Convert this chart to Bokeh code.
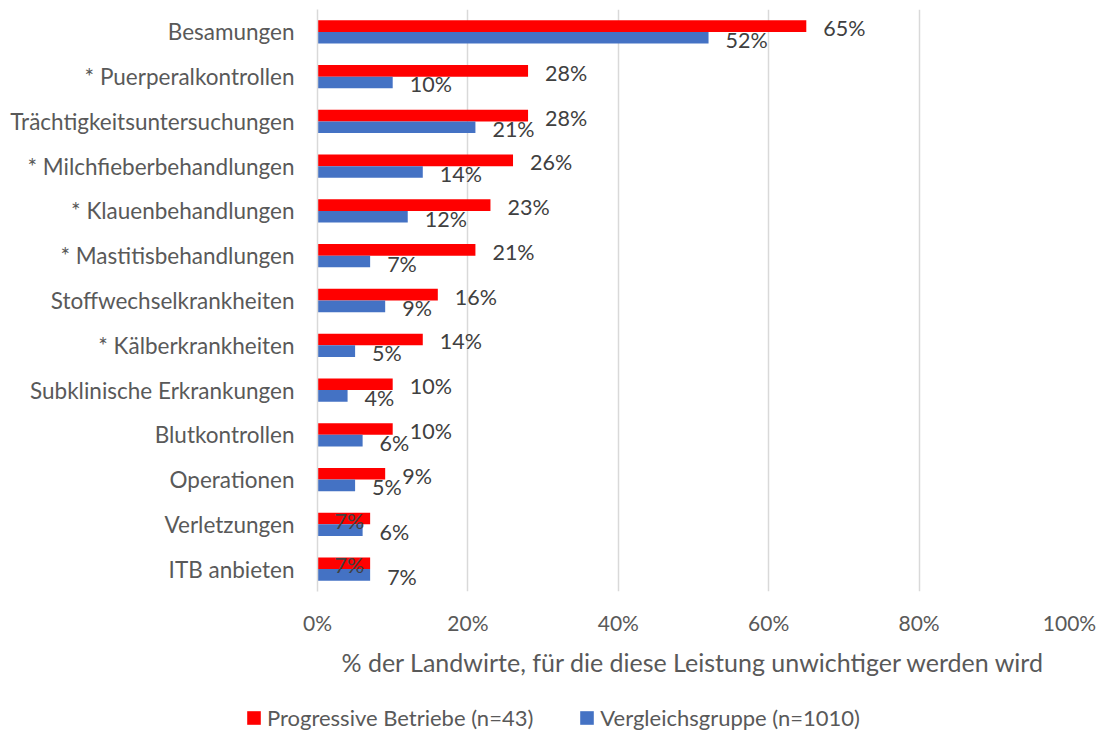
from bokeh.plotting import figure
from bokeh.models import (ColumnDataSource, FactorRange, Range1d, NumeralTickFormatter,
                          Legend, LegendItem, FixedTicker)
from bokeh.transform import dodge
from bokeh.core.properties import value
from bokeh.embed import file_html
from bokeh.resources import INLINE

categories = [
    "Besamungen",
    "* Puerperalkontrollen",
    "Trächtigkeitsuntersuchungen",
    "* Milchfieberbehandlungen",
    "* Klauenbehandlungen",
    "* Mastitisbehandlungen",
    "Stoffwechselkrankheiten",
    "* Kälberkrankheiten",
    "Subklinische Erkrankungen",
    "Blutkontrollen",
    "Operationen",
    "Verletzungen",
    "ITB anbieten",
]
progressive = [65, 28, 28, 26, 23, 21, 16, 14, 10, 10, 9, 7, 7]
vergleich = [52, 10, 21, 14, 12, 7, 9, 5, 4, 6, 5, 6, 7]
# labels of these red bars sit at the bar base in the original
red_label_at_base = [False] * 11 + [True, True]
x_ticks = [0, 0.2, 0.4, 0.6, 0.8, 1.0]
series_names = ["Progressive Betriebe (n=43)", "Vergleichsgruppe (n=1010)"]
x_title = "% der Landwirte, für die diese Leistung unwichtiger werden wird"

FONT = "Lato"
GREY = "#595959"
RED = "#FF0000"
BLUE = "#4472C4"

src = ColumnDataSource(dict(
    cat=categories,
    red=[v / 100 for v in progressive],
    blue=[v / 100 for v in vergleich],
    red_lx=[0 if b else v / 100 for v, b in zip(progressive, red_label_at_base)],
    red_txt=[f"{v}%" for v in progressive],
    blue_txt=[f"{v}%" for v in vergleich],
))

p = figure(width=1100, height=691,
           y_range=FactorRange(*categories[::-1]), x_range=Range1d(0, 1),
           output_backend="svg", toolbar_location=None,
           min_border_left=317, min_border_right=31, min_border_top=9, min_border_bottom=100)
p.outline_line_color = None

p.hbar(y=dodge("cat", 0.13, range=p.y_range), left=0, right="red", height=0.26,
       fill_color=RED, line_color=None, source=src)
p.hbar(y=dodge("cat", -0.13, range=p.y_range), left=0, right="blue", height=0.26,
       fill_color=BLUE, line_color=None, source=src)

p.text(x="red_lx", y=dodge("cat", 0.13, range=p.y_range), text="red_txt", source=src,
       x_offset=17, y_offset=2, text_align="left", text_baseline="middle",
       text_font=value(FONT), text_font_size="21.5px", text_color="#404040")
p.text(x="blue", y=dodge("cat", -0.13, range=p.y_range), text="blue_txt", source=src,
       x_offset=17, y_offset=2, text_align="left", text_baseline="middle",
       text_font=value(FONT), text_font_size="21.5px", text_color="#404040")

# axes
p.xaxis.ticker = FixedTicker(ticks=x_ticks)
p.xaxis.formatter = NumeralTickFormatter(format="0%")
p.xaxis.axis_line_color = None
p.xaxis.major_tick_line_color = None
p.xaxis.minor_tick_line_color = None
p.xaxis.major_tick_out = 0
p.xaxis.major_tick_in = 0
p.xaxis.major_label_standoff = 18
p.xaxis.major_label_text_font = FONT
p.xaxis.major_label_text_font_size = "21px"
p.xaxis.major_label_text_color = GREY
p.xaxis.axis_label = x_title
p.xaxis.axis_label_text_font = FONT
p.xaxis.axis_label_text_font_size = "25px"
p.xaxis.axis_label_text_font_style = "normal"
p.xaxis.axis_label_text_color = GREY
p.xaxis.axis_label_standoff = 9

p.yaxis.axis_line_color = "#D9D9D9"
p.yaxis.axis_line_width = 1.5
p.yaxis.major_tick_line_color = None
p.yaxis.minor_tick_line_color = None
p.yaxis.major_tick_out = 0
p.yaxis.major_tick_in = 0
p.yaxis.major_label_standoff = 23
p.yaxis.major_label_text_font = FONT
p.yaxis.major_label_text_font_size = "22.5px"
p.yaxis.major_label_text_color = GREY

p.xgrid.ticker = FixedTicker(ticks=x_ticks)
p.xgrid.grid_line_color = "#D9D9D9"
p.xgrid.grid_line_width = 1.5
p.ygrid.grid_line_color = None

# legend strip below the chart (separate root, so its frame spans the full width)
q = figure(width=1100, height=40, x_range=Range1d(0, 1), y_range=Range1d(0, 1),
           x_axis_type=None, y_axis_type=None, output_backend="svg", toolbar_location=None,
           min_border_left=0, min_border_right=0, min_border_top=0, min_border_bottom=0)
q.outline_line_color = None
q.grid.grid_line_color = None
lr = q.hbar(y=0.5, left=0, right="red", height=0.26, fill_color=RED, line_color=None,
            source=src, visible=False)
lb = q.hbar(y=0.5, left=0, right="blue", height=0.26, fill_color=BLUE, line_color=None,
            source=src, visible=False)
legend = Legend(items=[LegendItem(label=series_names[0], renderers=[lr]),
                       LegendItem(label=series_names[1], renderers=[lb])],
                orientation="horizontal", location=(245, 0),
                glyph_width=17, glyph_height=17, label_standoff=5, spacing=45,
                padding=0, margin=0, border_line_alpha=0, background_fill_alpha=0,
                inactive_fill_alpha=0,
                label_text_font=FONT, label_text_font_size="22px", label_text_color=GREY)
q.add_layout(legend, "center")

open("out.html", "w").write(file_html([p, q], INLINE))
